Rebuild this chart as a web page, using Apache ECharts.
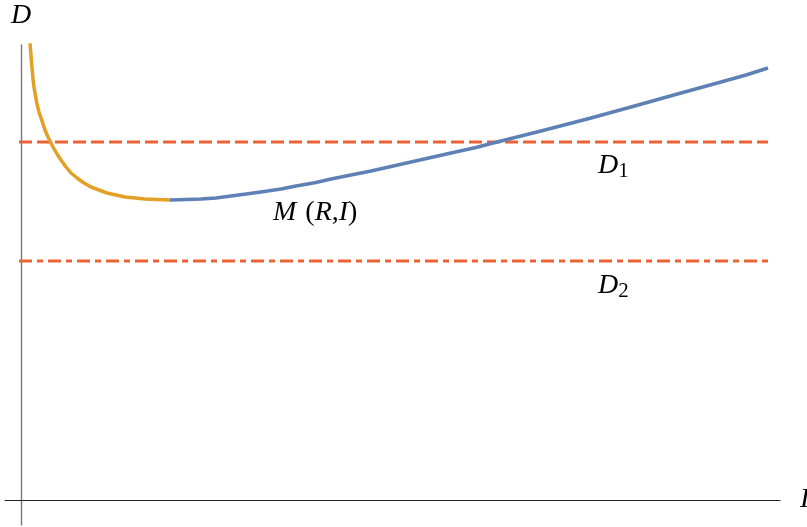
<!DOCTYPE html>
<html lang="en">
<head>
<meta charset="utf-8">
<title>M(R,I)</title>
<script src="https://cdn.jsdelivr.net/npm/echarts@6/dist/echarts.min.js"></script>
<style>
  html, body { margin: 0; padding: 0; background: #fff; }
  #chart { width: 807px; height: 527px; }
</style>
</head>
<body>
<div id="chart"></div>
<script>
// curve M(R,I): orange branch (left) and blue branch (right)
var orangeX = [0.09, 0.10, 0.11, 0.12, 0.13, 0.145, 0.16, 0.18, 0.20, 0.22, 0.24, 0.265, 0.29, 0.32, 0.36, 0.40, 0.45, 0.50, 0.56, 0.63, 0.70, 0.78, 0.86, 0.95, 1.04, 1.14, 1.24, 1.36, 1.49];
var orangeY = [4.57, 4.44, 4.32, 4.21, 4.13, 4.04, 3.96, 3.88, 3.82, 3.76, 3.70, 3.64, 3.59, 3.53, 3.46, 3.40, 3.33, 3.27, 3.22, 3.17, 3.13, 3.10, 3.07, 3.05, 3.03, 3.02, 3.01, 3.005, 3.00];
var blueX = [1.49, 1.65, 1.80, 1.95, 2.10, 2.25, 2.40, 2.60, 2.75, 2.95, 3.10, 3.30, 3.50, 3.70, 3.90, 4.10, 4.30, 4.55, 4.76, 5.00, 5.20, 5.45, 5.70, 5.90, 6.10, 6.35, 6.60, 6.80, 7.00, 7.25, 7.47];
var blueY = [3.00, 3.005, 3.01, 3.02, 3.04, 3.06, 3.08, 3.11, 3.14, 3.175, 3.21, 3.25, 3.29, 3.335, 3.38, 3.425, 3.47, 3.525, 3.58, 3.64, 3.69, 3.755, 3.82, 3.875, 3.93, 4.00, 4.07, 4.125, 4.18, 4.25, 4.32];
// horizontal levels
var lineStart = -0.02;
var lineEnd = 7.47;
var d1Level = 3.58;
var d2Level = 2.39;

function pairs(xs, ys) {
  return xs.map(function (x, i) { return [x, ys[i]]; });
}

var serif = 'Liberation Serif';
var chart = echarts.init(document.getElementById('chart'));
var sub = function (n) {
  return {
    text: '{i|D}{s|' + n + '}',
    rich: {
      i: { fontFamily: serif, fontStyle: 'italic', fontSize: 28, fill: '#000' },
      s: { fontFamily: serif, fontSize: 21, fill: '#000', padding: [11, 0, 0, 0] }
    }
  };
};
var option = {
  animation: false,
  grid: { left: 5, right: 27, top: 45, bottom: 2, outerBoundsMode: 'none', containLabel: false },
  xAxis: {
    type: 'value',
    min: -0.16,
    max: 7.59,
    name: 'I',
    nameLocation: 'end',
    nameGap: 20,
    nameTextStyle: { fontFamily: serif, fontStyle: 'italic', fontSize: 28, color: '#000', verticalAlign: 'middle' },
    axisLine: { onZero: true, lineStyle: { color: '#222', width: 1.2 } },
    axisTick: { show: false },
    axisLabel: { show: false },
    splitLine: { show: false }
  },
  yAxis: {
    type: 'value',
    min: -0.25,
    max: 4.55,
    name: 'D',
    nameLocation: 'end',
    nameGap: 15,
    nameTextStyle: { fontFamily: serif, fontStyle: 'italic', fontSize: 28, color: '#000', align: 'center' },
    axisLine: { onZero: true, lineStyle: { color: '#777', width: 1.4 } },
    axisTick: { show: false },
    axisLabel: { show: false },
    splitLine: { show: false }
  },
  series: [
    {
      name: 'D1',
      type: 'line',
      data: [[lineStart, d1Level], [lineEnd, d1Level]],
      symbol: 'none',
      lineStyle: { color: '#EB6235', width: 3, type: [13, 5] },
      z: 2
    },
    {
      name: 'D2',
      type: 'line',
      data: [[lineStart, d2Level], [lineEnd, d2Level]],
      symbol: 'none',
      lineStyle: { color: '#EB6235', width: 3, type: [13, 5, 6, 5] },
      z: 2
    },
    {
      name: 'orange',
      type: 'line',
      smooth: false,
      data: pairs(orangeX, orangeY),
      symbol: 'none',
      lineStyle: { color: '#E39F26', width: 3.5, join: 'round' },
      z: 3
    },
    {
      name: 'blue',
      type: 'line',
      smooth: false,
      data: pairs(blueX, blueY),
      symbol: 'none',
      lineStyle: { color: '#5E81B5', width: 3.5, join: 'round' },
      z: 3
    }
  ],
  graphic: [
    { type: 'text', left: 598, top: 152, style: sub(1) },
    { type: 'text', left: 598, top: 272, style: sub(2) },
    {
      type: 'text', left: 273, top: 199,
      style: {
        text: '{m|M}{p|(}{i|R}{p|,}{i|I}{p|)}',
        rich: {
          m: { fontFamily: serif, fontStyle: 'italic', fontSize: 28, fill: '#000', padding: [0, 9, 0, 0] },
          i: { fontFamily: serif, fontStyle: 'italic', fontSize: 28, fill: '#000' },
          p: { fontFamily: serif, fontSize: 28, fill: '#000' }
        }
      }
    }
  ]
};
chart.setOption(option);
</script>
</body>
</html>
